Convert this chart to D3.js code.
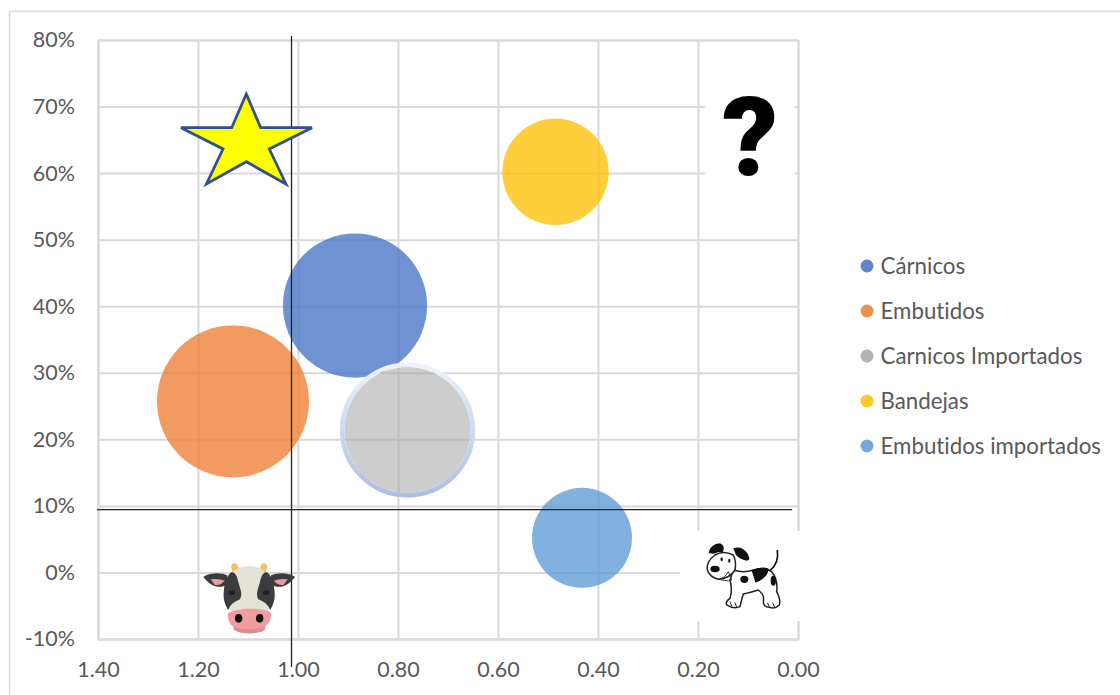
<!DOCTYPE html>
<html><head><meta charset="utf-8">
<script src="https://cdn.jsdelivr.net/npm/d3@7/dist/d3.min.js"></script>
<style>html,body{margin:0;padding:0;background:#fff}svg{display:block}text{font-family:Lato,"Open Sans",sans-serif;font-variant-ligatures:none}</style>
</head><body><svg id="c" width="1120" height="695"></svg>
<script>
const categories=["Cárnicos","Embutidos","Carnicos Importados","Bandejas","Embutidos importados"];
const xValues=[0.886,1.13,0.781,0.485,0.432];
const yValues=[0.401,0.257,0.214,0.602,0.052];
const sizes=[90,100,68.7,49,43.3];
const colors=["#4472c4","#ed7d31","#a5a5a5","#ffc000","#5b9bd5"];
const xTicks=[1.4,1.2,1,0.8,0.6,0.4,0.2,0];
const yTicks=[-0.1,0,0.1,0.2,0.3,0.4,0.5,0.6,0.7,0.8];
const refX=1.013, refY=0.0945;
const GRID="#d9d9d9",TXT="#595959";
const svg=d3.select("#c");
const x=d3.scaleLinear().domain([1.4,0]).range([98,798]);
const y=d3.scaleLinear().domain([-0.1,0.8]).range([639,40]);
const r=d3.scaleSqrt().domain([0,100]).range([0,76]);
svg.append("path").attr("d","M9.5,695V11.5H1120").attr("fill","none").attr("stroke",GRID).attr("stroke-width",1.5);
const pct=v=>Math.round(v*100)+"%";
const gx=svg.append("g").attr("transform","translate(0,639)").call(d3.axisBottom(x).tickValues(xTicks).tickFormat(d3.format(".2f")).tickSize(-599).tickPadding(23));
const gy=svg.append("g").attr("transform","translate(98,0)").call(d3.axisLeft(y).tickValues(yTicks).tickFormat(pct).tickSize(-700).tickPadding(23));
[gx,gy].forEach(g=>{g.select(".domain").attr("stroke",GRID).attr("stroke-width",2);
 g.selectAll("line").attr("stroke",GRID).attr("stroke-width",2);
 g.selectAll("text").attr("fill",TXT).attr("font-size",21.5).attr("font-family","Lato,sans-serif");});
svg.append("rect").attr("x",705).attr("y",88).attr("width",90).attr("height",95).attr("fill","#fff");
svg.append("rect").attr("x",680).attr("y",531).attr("width",120).attr("height",90).attr("fill","#fff");
const defs=svg.append("defs");
const lg=defs.append("linearGradient").attr("id","ring").attr("x1",0).attr("y1",0).attr("x2",0).attr("y2",1);
lg.append("stop").attr("offset",0).attr("stop-color","#eef2fa");
lg.append("stop").attr("offset",1).attr("stop-color","#a9c0e6");
const data=categories.map((c,i)=>({c,x:xValues[i],y:yValues[i],s:sizes[i],col:colors[i]}));
const isRing=d=>d.c==="Carnicos Importados";
svg.append("g").selectAll("circle").data(data).join("circle")
 .attr("cx",d=>x(d.x)).attr("cy",d=>y(d.y)).attr("r",d=>r(d.s))
 .attr("fill",d=>d.col).attr("fill-opacity",d=>isRing(d)?0.56:0.77);
svg.append("g").selectAll("circle").data(data.filter(isRing)).join("circle")
 .attr("cx",d=>x(d.x)).attr("cy",d=>y(d.y)).attr("r",d=>r(d.s)+2.3)
 .attr("fill","none").attr("stroke","url(#ring)").attr("stroke-width",4.6);
const lgd=svg.append("g").selectAll("g").data(data).join("g").attr("transform",(d,i)=>`translate(867,${266+45*i})`);
lgd.append("circle").attr("r",6.5).attr("fill",d=>d.col).attr("fill-opacity",0.85);
lgd.append("text").attr("x",13.5).attr("y",8).attr("font-size",22.3).attr("fill",TXT).text(d=>d.c);
svg.append("line").attr("x1",x(refX)).attr("x2",x(refX)).attr("y1",36).attr("y2",667).attr("stroke","#222").attr("stroke-width",1.3);
svg.append("line").attr("x1",97).attr("x2",792).attr("y1",y(refY)).attr("y2",y(refY)).attr("stroke","#222").attr("stroke-width",1.3);
svg.append("polygon").attr("points","246.3,94 231.7,127.7 181,127.7 223,149 206.5,184 246.3,161.7 286,184 269.3,149 312,127.7 260.7,127.7").attr("fill","#ffff00").attr("stroke","#2f528f").attr("stroke-width",2.8);
svg.append("text").attr("x",750).attr("y",175).attr("text-anchor","middle").attr("font-size",110).attr("font-weight",900).attr("style","font-family:Roboto,sans-serif").attr("fill","#000").text("?");
const cow=svg.append("g").attr("transform","translate(190,550) scale(0.3333)");
const ear=(g,m)=>{const e=g.append("g").attr("transform",m?"translate(355,0) scale(-1,1)":null);
 e.append("path").attr("d","M40,80C65,66 95,68 112,76L112,104C90,116 62,112 40,80Z").attr("fill","#3c3c3f");
 e.append("path").attr("d","M62,88Q85,84 104,92Q90,108 74,104Z").attr("fill","#eb9aa0");
 e.append("path").attr("d","M123,47Q135,33 143,47L150,72Q135,78 128,70Z").attr("fill","#f0bf60");};
ear(cow,false);ear(cow,true);
cow.append("path").attr("d","M122,72C150,40 205,40 233,72C250,100 256,120 254,150C245,185 210,195 178,195C145,195 110,185 101,150C99,120 105,100 122,72Z").attr("fill","#e4e1d6");
[false,true].forEach(m=>{const p=cow.append("g").attr("transform",m?"translate(355,0) scale(-1,1)":null);
 p.append("path").attr("d","M122,68C135,62 142,80 146,100C152,120 158,135 150,148C132,155 120,165 114,180C106,165 100,150 101,130C102,105 108,80 122,68Z").attr("fill","#3c3c3f");
 p.append("ellipse").attr("cx",126).attr("cy",128).attr("rx",10).attr("ry",7).attr("fill","#222");});
cow.append("path").attr("d","M128,222L228,222L224,240C200,254 155,254 132,240Z").attr("fill","#e08a8e");
cow.append("path").attr("d","M114,190C140,172 215,172 243,188C244,210 235,226 220,232C190,240 160,240 134,232C120,226 112,210 114,190Z").attr("fill","#f09ca0");
[146,209].forEach(cx=>cow.append("ellipse").attr("cx",cx).attr("cy",205).attr("rx",11).attr("ry",13).attr("fill","#111"));
const dog=svg.append("g").attr("transform","translate(680,520) scale(0.3333)");
dog.append("path").attr("d","M270,152Q298,130 292,90").attr("fill","none").attr("stroke","#111").attr("stroke-width",5);
dog.append("path").attr("d","M160,150Q190,160 220,150Q255,140 275,155Q295,180 290,215Q303,240 298,255Q285,268 268,262Q250,260 250,245Q255,225 235,210Q210,218 190,222Q182,250 180,260Q160,268 140,255Q135,245 150,235Q158,210 150,180Z").attr("fill","#fff").attr("stroke","#222").attr("stroke-width",4.5);
dog.append("path").attr("d","M82,150Q78,125 105,105Q130,90 160,105Q170,125 165,150Q150,175 115,178Q90,172 82,150Z").attr("fill","#fff").attr("stroke","#222").attr("stroke-width",4.5);
dog.append("path").attr("d","M86,98Q92,72 120,70Q138,78 128,98L115,96Q100,105 86,98Z").attr("fill","#111");
dog.append("path").attr("d","M160,85Q185,76 202,100Q215,122 200,122Q178,117 168,105Z").attr("fill","#111");
dog.append("ellipse").attr("cx",105).attr("cy",147).attr("rx",14).attr("ry",10).attr("fill","#111");
dog.append("ellipse").attr("cx",125).attr("cy",118).attr("rx",3.5).attr("ry",6).attr("fill","#111");
dog.append("ellipse").attr("cx",148).attr("cy",122).attr("rx",3.5).attr("ry",6).attr("fill","#111");
dog.append("path").attr("d","M215,152Q240,138 265,145Q268,165 240,182L226,188Q222,170 215,152Z").attr("fill","#111");
dog.append("ellipse").attr("cx",193).attr("cy",178).attr("rx",12).attr("ry",11).attr("fill","#111");
dog.append("ellipse").attr("cx",280).attr("cy",182).attr("rx",8).attr("ry",15).attr("fill","#111");
dog.append("path").attr("d","M115,178Q135,175 145,155L155,180L145,183Z").attr("fill","none").attr("stroke","#333").attr("stroke-width",3);
dog.append("path").attr("d","M150,245L155,258M165,248L170,262M262,248L268,260M278,248L284,262").attr("stroke","#222").attr("stroke-width",3);
</script></body></html>
